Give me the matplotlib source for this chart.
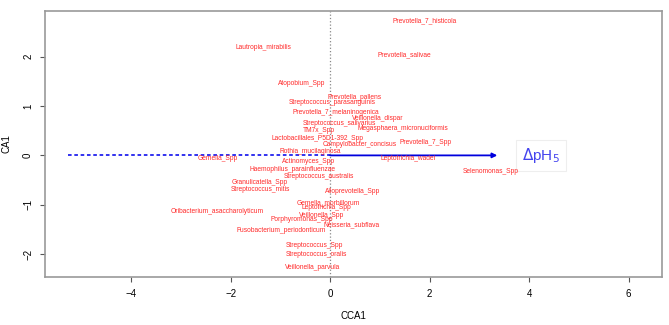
import matplotlib
matplotlib.use("Agg")
import matplotlib.pyplot as plt

plt.rcParams["font.family"] = ["Liberation Sans", "DejaVu Sans"]

# species scores (CCA1, CA1)
species = [
    "Prevotella_7_histicola", "Lautropia_mirabilis", "Prevotella_salivae",
    "Atopobium_Spp", "Prevotella_pallens", "Streptococcus_parasanguinis",
    "Prevotella_7_melaninogenica", "Veillonella_dispar", "Streptococcus_salivarius",
    "TM7x_Spp", "Megasphaera_micronuciformis", "Lactobacillales_P5D1-392_Spp",
    "Campylobacter_concisus", "Prevotella_7_Spp", "Rothia_mucilaginosa",
    "Leptotrichia_wadei", "Actinomyces_Spp", "Gemella_Spp",
    "Haemophilus_parainfluenzae", "Streptococcus_australis", "Selenomonas_Spp",
    "Granulicatella_Spp", "Streptococcus_mitis", "Alloprevotella_Spp",
    "Gemella_morbillorum", "Leptotrichia_Spp", "Oribacterium_asaccharolyticum",
    "Veillonella_Spp", "Porphyromonas_Spp", "Neisseria_subflava",
    "Fusobacterium_periodonticum", "Streptococcus_Spp", "Streptococcus_oralis",
    "Veillonella_parvula",
]
cca1 = [1.89, -1.34, 1.49, -0.58, 0.50, 0.04, 0.12, 0.95, 0.18, -0.22, 1.47,
        -0.26, 0.60, 1.92, -0.39, 1.56, -0.44, -2.25, -0.76, -0.22, 3.22,
        -1.41, -1.40, 0.46, -0.04, -0.08, -2.26, -0.18, -0.57, 0.44, -0.98,
        -0.32, -0.28, -0.36]
ca1 = [2.72, 2.19, 2.04, 1.46, 1.17, 1.06, 0.87, 0.74, 0.64, 0.50, 0.54,
       0.34, 0.22, 0.26, 0.07, -0.07, -0.13, -0.07, -0.28, -0.42, -0.32,
       -0.55, -0.69, -0.74, -0.96, -1.05, -1.14, -1.22, -1.30, -1.41, -1.51,
       -1.83, -2.00, -2.26]

# environmental vector (biplot arrow) and its dashed back-projection
env_label = r"$\Delta$pH$_5$"
env_x, env_y = 3.36, 0.0
back_x = -5.27

fig = plt.figure(figsize=(6.69, 3.25), dpi=100)
ax = fig.add_axes([0.0673, 0.1477, 0.9222, 0.8183])
ax.set_xlim(-5.73, 6.67)
ax.set_ylim(-2.46, 2.92)

ax.axvline(0, color="#888888", linestyle=":", linewidth=0.9, zorder=1)
ax.plot([back_x, 0], [0, 0], color="#2222ee", linestyle=(0, (2, 1.5)),
        linewidth=1.3, zorder=2)
ax.annotate("", xy=(env_x, env_y), xytext=(0, 0),
            arrowprops=dict(arrowstyle="-|>", color="#0000dd", lw=1.3,
                            mutation_scale=7, shrinkA=0, shrinkB=0), zorder=3)
ax.text(4.24, 0.0, env_label, color="#4444ee", fontsize=11, ha="center",
        va="center",
        bbox=dict(boxstyle="square,pad=0.4", fc="white", ec="#eeeeee", lw=0.8))

for name, x, y in zip(species, cca1, ca1):
    ax.text(x, y, name, color="#ff2a2a", fontsize=4.8, ha="center", va="center",
            zorder=4)

for side in ax.spines.values():
    side.set_color("#999999")
    side.set_linewidth(1.2)

ax.set_xticks([-4, -2, 0, 2, 4, 6])
ax.set_yticks([-2, -1, 0, 1, 2])
ax.tick_params(axis="both", length=3.6, width=0.8, color="#555555",
               labelsize=7, pad=5)
for lab in ax.get_yticklabels():
    lab.set_rotation(90)
    lab.set_va("center")

ax.set_xlabel("CCA1", fontsize=7, labelpad=9)
ax.set_ylabel("CA1", fontsize=7, labelpad=8)

fig.savefig("out.png", dpi=100)
